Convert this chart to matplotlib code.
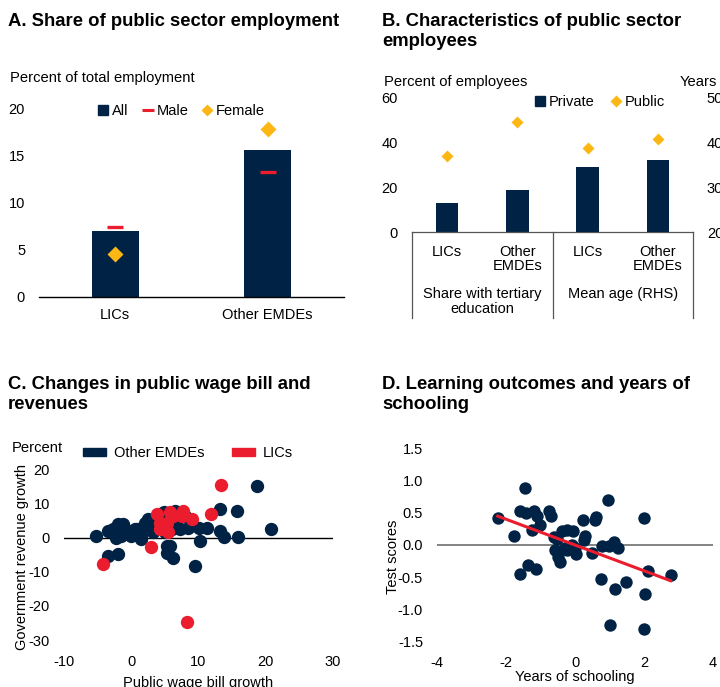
import matplotlib
matplotlib.use("Agg")
import matplotlib.pyplot as plt
from matplotlib.lines import Line2D
from matplotlib.patches import Patch
import numpy as np

plt.rcParams['font.family'] = ['Liberation Sans', 'DejaVu Sans']
plt.rcParams['axes.unicode_minus'] = False
plt.rcParams['font.size'] = 10

NAVY = "#002345"
RED = "#EB1C2D"
ORANGE = "#FDB714"

# ---- Panel A data ----
a_groups = ["LICs", "Other EMDEs"]
a_all = [7.0, 15.6]
a_male = [7.4, 13.2]
a_female = [4.5, 17.8]

# ---- Panel B data ----
b_labels = ["LICs", "Other\nEMDEs", "LICs", "Other\nEMDEs"]
b_tertiary_private = [13, 19]
b_tertiary_public = [34, 49]
b_age_private = [34.6, 36.1]
b_age_public = [38.7, 40.7]
b_group_labels = ["Share with tertiary\neducation", "Mean age (RHS)"]

# ---- Panel C data: public wage bill growth vs revenue growth ----
c_other_x = [-5.2, -3.5, -3.2, -2.7, -2.2, -2.2, -2.0, -1.2, -1.5, -1.0, -0.5, 0.0,
             0.5, 0.8, 1.0, 1.5, 1.5, 1.8, 2.0, 2.5, 2.8, 3.2, 4.3, 4.8, 5.0, 5.3,
             5.7, 5.3, 6.2, 6.0, 6.5, 7.2, 8.0, 8.5, 9.0, 9.5, 10.0, 10.2, 11.2,
             13.2, 13.2, 13.8, 15.7, 15.8, 18.7, 20.8, -3.5, -2.0, 3.5, 6.8]
c_other_y = [0.5, 1.8, 2.0, 2.5, 1.5, 0.0, 3.9, 3.9, 0.5, 2.5, 1.5, 0.5,
             2.5, 2.5, 1.0, 0.0, -0.5, 2.0, 4.4, 5.4, 3.0, 1.5, 6.9, 7.4, 1.5, -2.4,
             -2.4, -4.4, -5.9, 2.5, 7.9, 2.5, 6.4, 2.9, 4.0, -8.3, 2.9, -1.0, 2.9,
             8.3, 2.0, 0.2, 7.9, 0.2, 15.2, 2.5, -5.4, -4.9, 4.0, 3.5]
c_lic_x = [-4.2, 2.9, 3.8, 4.3, 4.3, 5.5, 5.7, 6.2, 5.3, 7.5, 7.7, 9.0, 11.9, 13.4, 8.3]
c_lic_y = [-7.8, -2.9, 6.9, 4.4, 2.5, 1.5, 7.4, 6.4, 4.4, 6.4, 7.9, 5.4, 6.9, 15.5, -24.8]

# ---- Panel D data: years of schooling vs test scores ----
d_x = [-2.24, -1.78, -1.46, -1.59, -1.43, -1.19, -1.24, -1.02, -1.10, -0.76, -0.70,
       -1.59, -1.36, -1.14, -0.52, -0.38, -0.24, -0.07, -0.57, -0.48, -0.43, -0.24,
       -0.10, 0.03, 0.22, 0.29, 0.25, 0.57, 0.60, 0.48, 0.76, 0.79, 0.95, 0.98,
       1.12, 1.24, 1.16, 1.48, 1.00, 2.00, 2.12, 2.03, 2.00, 2.77, -0.60, -0.30, 0.00]
d_y = [0.42, 0.14, 0.89, 0.52, 0.50, 0.53, 0.24, 0.31, 0.45, 0.53, 0.45,
       -0.45, -0.31, -0.38, 0.10, 0.21, 0.23, 0.22, -0.07, -0.18, -0.27, -0.08,
       0.00, -0.14, 0.39, 0.14, 0.08, 0.39, 0.43, -0.13, -0.53, -0.02, 0.70, -0.02,
       0.04, -0.05, -0.69, -0.57, -1.24, 0.42, -0.40, -0.76, -1.31, -0.46, 0.12, -0.05, -0.05]
d_fit_range = [-2.24, 2.77]
d_fit_slope = -0.2
d_fit_intercept = 0.0

fig = plt.figure(figsize=(7.2, 6.87), dpi=100)


def fx(px):
    return px / 720.0


def fy(py):
    return 1 - py / 687.0


def clean(ax, keep_bottom=False):
    for s in ax.spines.values():
        s.set_visible(False)
    if keep_bottom:
        ax.spines['bottom'].set_visible(True)
        ax.spines['bottom'].set_color('black')
        ax.spines['bottom'].set_linewidth(1.0)
    ax.tick_params(length=0, labelsize=10.5)


title_kw = dict(fontsize=13.3, fontweight='bold', va='top', ha='left')

# ================= Panel A =================
axA = fig.add_axes([fx(39), fy(296.7), fx(305), 188.4 / 687])
clean(axA, keep_bottom=True)
xa = np.arange(len(a_groups))
axA.bar(xa, a_all, width=0.31, color=NAVY, label="All", zorder=2)
axA.plot(xa, a_male, ls='none', marker='_', ms=11.5, mew=2.4, color=RED, zorder=3, label="Male")
axA.plot(xa, a_female, ls='none', marker='D', ms=8, color=ORANGE, mec='none', zorder=3, label="Female")
axA.set_xlim(-0.5, 1.5)
axA.set_ylim(0, 20)
axA.set_yticks([0, 5, 10, 15, 20])
axA.set_xticks(xa)
axA.set_xticklabels(a_groups)
axA.tick_params(axis='y', pad=10)
axA.tick_params(axis='x', pad=8)
handlesA = [Line2D([], [], ls='none', marker='s', ms=7, color=NAVY),
            Line2D([], [], ls='none', marker='_', ms=8, mew=2.2, color=RED),
            Line2D([], [], ls='none', marker='D', ms=6, color=ORANGE, mec='none')]
axA.legend(handlesA, ["All", "Male", "Female"], ncol=3, frameon=False,
           loc='center', bbox_to_anchor=(fx(182), fy(111)), bbox_transform=fig.transFigure,
           handlelength=0.6, handletextpad=0.3, columnspacing=1.0, fontsize=10.5)
fig.text(fx(8), fy(13), "A. Share of public sector employment", **title_kw)
fig.text(fx(10), fy(78), "Percent of total employment", fontsize=10.6, va='center', ha='left')

# ================= Panel B =================
axB = fig.add_axes([fx(412), fy(232.3), fx(281), 135 / 687])
clean(axB, keep_bottom=True)
axB.spines['bottom'].set_color('#555555')
axB.spines['bottom'].set_linewidth(0.9)
axB.set_xlim(-0.5, 3.5)
axB.set_ylim(0, 60)
axB.set_yticks([0, 20, 40, 60])
axB.tick_params(axis='y', pad=10)
xb = np.arange(4)
axB.bar(xb[:2], b_tertiary_private, width=0.32, color=NAVY, zorder=2)
axB.plot(xb[:2], b_tertiary_public, ls='none', marker='D', ms=6.5, color=ORANGE, mec='none', zorder=3)
axB.set_xticks(xb)
axB.set_xticklabels(b_labels, linespacing=1.0)
axB.tick_params(axis='x', pad=9)

axB2 = axB.twinx()
for s in axB2.spines.values():
    s.set_visible(False)
axB2.set_ylim(20, 50)
axB2.set_yticks([20, 30, 40, 50])
axB2.tick_params(length=0, labelsize=10.5, pad=10)
axB2.bar(xb[2:], b_age_private, width=0.32, color=NAVY, zorder=2, bottom=0)
axB2.plot(xb[2:], b_age_public, ls='none', marker='D', ms=6.5, color=ORANGE, mec='none', zorder=3)

trB = axB.get_xaxis_transform()
for xv in [-0.5, 1.5, 3.5]:
    axB.plot([xv, xv], [0, -0.635], transform=trB, color='#555555', lw=0.9, clip_on=False)
axB.text(0.5, -0.405, b_group_labels[0], transform=trB, ha='center', va='top', fontsize=10.5, linespacing=1.1)
axB.text(2.5, -0.405, b_group_labels[1], transform=trB, ha='center', va='top', fontsize=10.5)

handlesB = [Line2D([], [], ls='none', marker='s', ms=7, color=NAVY),
            Line2D([], [], ls='none', marker='D', ms=6, color=ORANGE, mec='none')]
axB.legend(handlesB, ["Private", "Public"], ncol=2, frameon=False,
           loc='center', bbox_to_anchor=(fx(600), fy(102)), bbox_transform=fig.transFigure,
           handlelength=0.6, handletextpad=0.3, columnspacing=1.2, fontsize=10.5)
fig.text(fx(382), fy(13), "B. Characteristics of public sector\nemployees", linespacing=1.2, **title_kw)
fig.text(fx(384), fy(82), "Percent of employees", fontsize=10.6, va='center', ha='left')
fig.text(fx(680), fy(82), "Years", fontsize=10.6, va='center', ha='left')

# ================= Panel C =================
axC = fig.add_axes([fx(64), fy(640), fx(269), 170.7 / 687])
clean(axC)
axC.set_xlim(-10, 30)
axC.set_ylim(-30, 20)
axC.set_xticks([-10, 0, 10, 20, 30])
axC.set_yticks([-30, -20, -10, 0, 10, 20])
axC.axhline(0, color='black', lw=1.0, zorder=1)
axC.scatter(c_other_x, c_other_y, s=92, color=NAVY, linewidths=0, zorder=2)
axC.scatter(c_lic_x, c_lic_y, s=92, color=RED, linewidths=0, zorder=3)
axC.tick_params(axis='y', pad=10)
axC.tick_params(axis='x', pad=11)
axC.set_xlabel("Public wage bill growth", fontsize=10.5, labelpad=4)
axC.set_ylabel("Government revenue growth", fontsize=10.5, labelpad=2)
axC.xaxis.set_label_coords(0.5, (640 - 683) / 170.7, transform=axC.transAxes)
axC.xaxis.label.set_va('center')
axC.yaxis.set_label_coords(fx(21.7), fy(556.7), transform=fig.transFigure)
axC.yaxis.label.set_va('center')
handlesC = [Patch(color=NAVY), Patch(color=RED)]
axC.legend(handlesC, ["Other EMDEs", "LICs"], ncol=2, frameon=False,
           loc='center left', bbox_to_anchor=(fx(70), fy(453)), bbox_transform=fig.transFigure,
           handlelength=1.6, handleheight=0.5, handletextpad=0.5, columnspacing=1.9, fontsize=10.5)
fig.text(fx(8), fy(376), "C. Changes in public wage bill and\nrevenues", linespacing=1.2, **title_kw)
fig.text(fx(12), fy(448), "Percent", fontsize=10.6, va='center', ha='left')

# ================= Panel D =================
axD = fig.add_axes([fx(437), fy(641.7), fx(276), 193.4 / 687])
clean(axD)
axD.set_xlim(-4, 4)
axD.set_ylim(-1.5, 1.5)
axD.set_xticks([-4, -2, 0, 2, 4])
axD.set_yticks([-1.5, -1.0, -0.5, 0.0, 0.5, 1.0, 1.5])
axD.set_yticklabels([f"{v:.1f}" for v in [-1.5, -1.0, -0.5, 0.0, 0.5, 1.0, 1.5]])
axD.axhline(0, color='#6e6e6e', lw=1.2, zorder=1)
axD.scatter(d_x, d_y, s=80, color=NAVY, linewidths=0, zorder=2)
fit_x = np.array(d_fit_range)
axD.plot(fit_x, d_fit_slope * fit_x + d_fit_intercept, color=RED, lw=2.2, zorder=3)
axD.tick_params(axis='y', pad=10)
axD.tick_params(axis='x', pad=10)
axD.set_xlabel("Years of schooling", fontsize=10.5)
axD.xaxis.set_label_coords(0.5, (641.7 - 676.7) / 193.4, transform=axD.transAxes)
axD.xaxis.label.set_va('center')
axD.set_ylabel("Test scores", fontsize=10.5)
axD.yaxis.set_label_coords(fx(393.5), fy(556.7), transform=fig.transFigure)
axD.yaxis.label.set_va('center')
fig.text(fx(382), fy(376), "D. Learning outcomes and years of\nschooling", linespacing=1.2, **title_kw)

fig.savefig("out.png", dpi=100)
